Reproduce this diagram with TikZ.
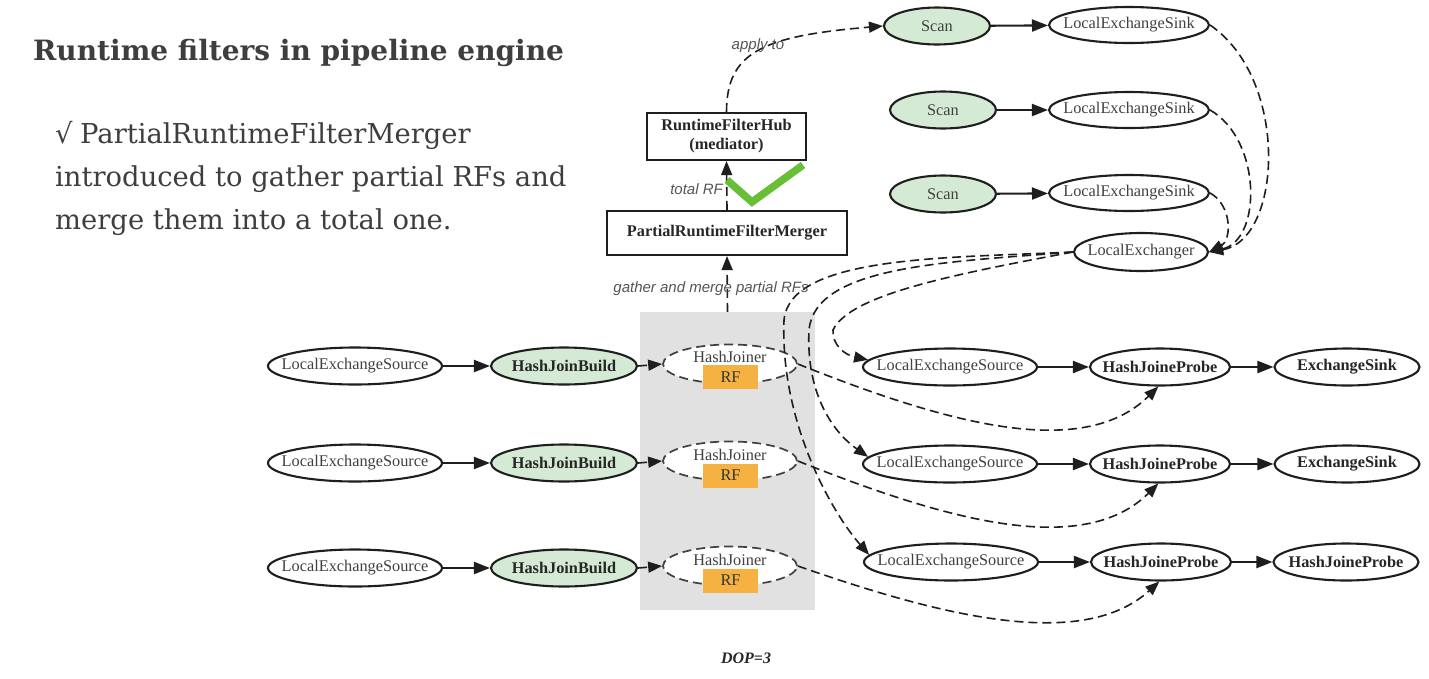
\documentclass[tikz,border=0pt]{standalone}
\usepackage{fontspec}
\setmainfont{DejaVu Serif}
\newfontfamily\gvfont{Liberation Serif}
\newfontfamily\lblfont{Liberation Sans}
\newfontfamily\symfont{DejaVu Sans}
\usetikzlibrary{shapes.geometric,arrows.meta}
\definecolor{nodegreen}{RGB}{212,234,212}
\definecolor{rforange}{RGB}{245,178,66}
\definecolor{regiongray}{RGB}{225,225,225}
\definecolor{checkgreen}{RGB}{104,190,52}
\definecolor{titlegray}{RGB}{62,62,62}
\definecolor{edgeblack}{RGB}{30,30,30}
\definecolor{lblgray}{RGB}{85,85,85}
\newcommand\zw[1]{\makebox[0pt]{#1}}
\begin{document}
\begin{tikzpicture}[x=1pt,y=-1pt,
  op/.style={ellipse, draw=edgeblack, line width=2.1pt, minimum height=37pt, inner sep=0pt,
    font=\gvfont\fontsize{16.3}{18}\selectfont, text=black!75},
  gr/.style={fill=nodegreen},
  bold/.style={font=\gvfont\bfseries\fontsize{16.3}{18}\selectfont, text=black!85},
  hjs/.style={ellipse, draw=edgeblack!85, fill=white, line width=1.7pt, dash pattern=on 9pt off 5pt,
    minimum width=134pt, minimum height=39pt, inner sep=0pt},
  hjtxt/.style={inner sep=0pt, font=\gvfont\fontsize{16.3}{18}\selectfont, text=black!75},
  rfbox/.style={fill=rforange, minimum width=55pt, minimum height=24pt, inner sep=0pt,
    font=\gvfont\fontsize{16.3}{18}\selectfont, text=black!80},
  boxn/.style={rectangle, draw=edgeblack, line width=2.1pt, inner sep=0pt, align=center,
    font=\gvfont\bfseries\fontsize{16.3}{19}\selectfont, text=black!85},
  region/.style={fill=regiongray, minimum width=175pt, minimum height=298pt, inner sep=0pt},
  lbl/.style={inner sep=0pt, font=\lblfont\itshape\fontsize{15}{17}\selectfont, text=lblgray},
  doplbl/.style={inner sep=0pt, font=\gvfont\bfseries\itshape\fontsize{16}{18}\selectfont, text=black!85},
  titletxt/.style={inner sep=0pt, font=\bfseries\fontsize{28}{32}\selectfont, text=titlegray},
  bodytxt/.style={inner sep=0pt, font=\fontsize{27.4}{32}\selectfont, text=titlegray},
  arr/.style={-{Triangle[length=16pt,width=12pt]}, line width=2.1pt, draw=edgeblack},
  darr/.style={-{Triangle[length=14pt,width=11pt]}, draw=edgeblack, line width=1.6pt, dash pattern=on 9pt off 5pt},
]
\useasboundingbox (0,0) rectangle (1429,678);
\fill[white] (0,0) rectangle (1429,678);

% ---- text block
\node[titletxt, anchor=base west] (title) at (33,60) {Runtime filters in pipeline engine};
\node[bodytxt, anchor=base west] (tick) at (55,143) {\symfont √};
\node[bodytxt, anchor=base west] (b1) at (80,143) {PartialRuntimeFilterMerger};
\node[bodytxt, anchor=base west] (b2) at (55,186) {introduced to gather partial RFs and};
\node[bodytxt, anchor=base west] (b3) at (55,229) {merge them into a total one.};

% ---- gray DOP region
\node[region] (dop) at (727.5,461) {};
\node[doplbl] (doptxt) at (746,658) {DOP=3};

% ---- top boxes
\node[boxn, minimum width=159pt, minimum height=47pt] (hub) at (726.5,136.5) {RuntimeFilterHub\\(mediator)};
\node[boxn, minimum width=240pt, minimum height=44pt] (merger) at (727,233) {PartialRuntimeFilterMerger};

% ---- scans and sinks
\node[op, gr, minimum width=106pt] (s1) at (937,26) {\zw{Scan}};
\node[op, gr, minimum width=106pt] (s2) at (943,110) {\zw{Scan}};
\node[op, gr, minimum width=106pt] (s3) at (943,194) {\zw{Scan}};
\node[op, minimum width=160pt, minimum height=36pt] (k1) at (1129,25) {\zw{LocalExchangeSink}};
\node[op, minimum width=160pt, minimum height=36pt] (k2) at (1129,110) {\zw{LocalExchangeSink}};
\node[op, minimum width=160pt, minimum height=36pt] (k3) at (1129,193) {\zw{LocalExchangeSink}};
\node[op, minimum width=134pt, minimum height=38pt] (lx) at (1141,252) {\zw{LocalExchanger}};

% ---- build side
\node[op, minimum width=174pt] (ls1) at (355,366) {\zw{LocalExchangeSource}};
\node[op, minimum width=174pt] (ls2) at (355,463) {\zw{LocalExchangeSource}};
\node[op, minimum width=174pt] (ls3) at (355,568) {\zw{LocalExchangeSource}};
\node[op, gr, bold, minimum width=146pt] (hb1) at (564,366) {\zw{HashJoinBuild}};
\node[op, gr, bold, minimum width=146pt] (hb2) at (564,463) {\zw{HashJoinBuild}};
\node[op, gr, bold, minimum width=146pt] (hb3) at (564,568) {\zw{HashJoinBuild}};

% ---- hash joiners
\node[hjs] (hj1) at (730,364) {};
\node[hjs] (hj2) at (730,461) {};
\node[hjs] (hj3) at (730,566) {};
\node[hjtxt] (hj1t) at (730,357) {HashJoiner};
\node[hjtxt] (hj2t) at (730,455) {HashJoiner};
\node[hjtxt] (hj3t) at (730,560) {HashJoiner};
\node[rfbox] (rf1) at (730.5,377) {RF};
\node[rfbox] (rf2) at (730.5,475.5) {RF};
\node[rfbox] (rf3) at (730.5,580.5) {RF};

% ---- probe side
\node[op, minimum width=174pt] (rs1) at (950,367) {\zw{LocalExchangeSource}};
\node[op, minimum width=174pt] (rs2) at (950,464) {\zw{LocalExchangeSource}};
\node[op, minimum width=174pt] (rs3) at (951,562) {\zw{LocalExchangeSource}};
\node[op, bold, minimum width=140pt] (hp1) at (1160,367) {\zw{HashJoineProbe}};
\node[op, bold, minimum width=140pt] (hp2) at (1160,464) {\zw{HashJoineProbe}};
\node[op, bold, minimum width=140pt] (hp3) at (1161,562) {\zw{HashJoineProbe}};
\node[op, bold, minimum width=145pt] (es1) at (1347,367) {\zw{ExchangeSink}};
\node[op, bold, minimum width=145pt] (es2) at (1347,464) {\zw{ExchangeSink}};
\node[op, bold, minimum width=145pt] (es4) at (1346,562) {\zw{HashJoineProbe}};

% ---- solid edges
\draw[arr] (s1) -- (k1);
\draw[arr] (s2) -- (k2);
\draw[arr] (s3) -- (k3);
\draw[arr] (ls1) -- (hb1);
\draw[arr] (ls2) -- (hb2);
\draw[arr] (ls3) -- (hb3);
\draw[arr] (rs1) -- (hp1);
\draw[arr] (rs2) -- (hp2);
\draw[arr] (rs3) -- (hp3);
\draw[arr] (hp1) -- (es1);
\draw[arr] (hp2) -- (es2);
\draw[arr] (hp3) -- (es4);

% ---- dashed edges
\draw[darr] (hb1.east) -- (hj1.west);
\draw[darr] (hb2.east) -- (hj2.west);
\draw[darr] (hb3.east) -- (hj3.west);

\draw[darr] (hj1.east) .. controls +(143,57) and +(-77,76) .. (hp1.-95);
\draw[darr] (hj2.east) .. controls +(143,57) and +(-77,76) .. (hp2.-95);
\draw[darr] (hj3.east) .. controls +(143,50) and +(-77,70) .. (hp3.-95);

\draw[darr] (k1.east) .. controls (1290,80) and (1282,240) .. (lx.east);
\draw[darr] (k2.east) .. controls (1262,140) and (1262,240) .. (lx.east);
\draw[darr] (k3.east) .. controls (1232,205) and (1232,240) .. (lx.east);

\draw[darr] (lx.west) .. controls (950,275) and (850,295) .. (833,330)
  .. controls (832,345) and (845,355) .. (rs1.175);
\draw[darr] (lx.west) .. controls (950,262) and (815,265) .. (809,330)
  .. controls (806,390) and (830,430) .. (rs2.175);
\draw[darr] (lx.west) .. controls (950,258) and (790,255) .. (784,320)
  .. controls (780,420) and (830,510) .. (rs3.175);

\draw[darr] (dop.north) -- (merger.south);
\draw[darr] (merger.north) -- (hub.south);
\draw[darr] (hub.north) .. controls +(0,-60) and +(-120,10) .. (s1.west);

\node[lbl] (applylbl) at (758,46) {apply to};
\node[lbl, anchor=east] (totallbl) at (723,189) {total RF};
\node[lbl] (gatherlbl) at (711,289) {gather and merge partial RFs};

% ---- green check annotation
\draw[checkgreen, line width=7.5pt] (727,180) -- (752,202) -- (803,165);
\end{tikzpicture}
\end{document}
